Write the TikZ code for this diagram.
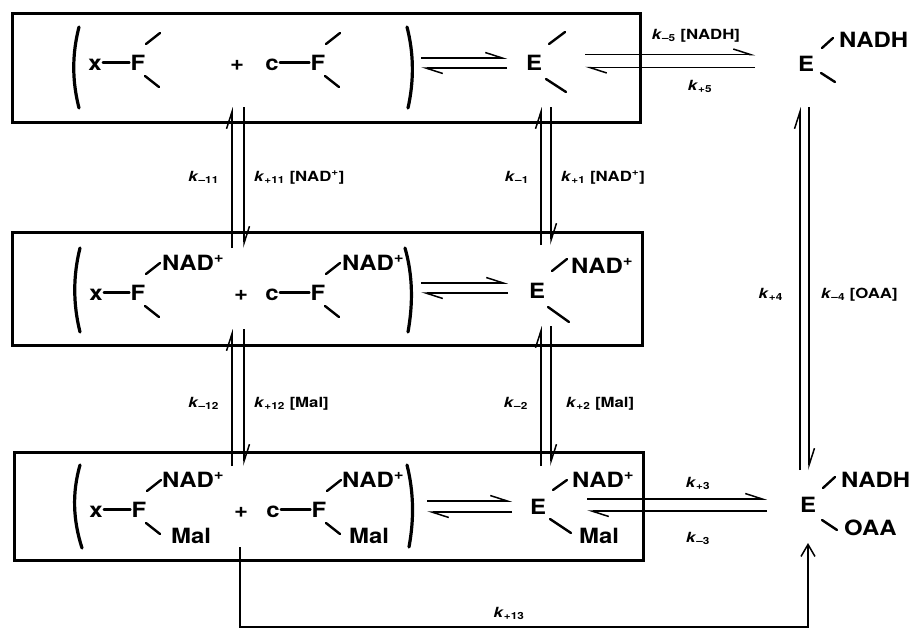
\documentclass[tikz,border=0pt]{standalone}
\usepackage{fontspec}
\setmainfont{TeX Gyre Heros}[FakeStretch=1.14]
\newfontfamily\ratefont{TeX Gyre Heros}[FakeStretch=1.2]
\usetikzlibrary{arrows.meta}

\newcommand{\rate}[1]{\textit{k}\textsubscript{#1}}

\tikzset{
chem/.style={font=\fontsize{21}{24}\selectfont\bfseries, inner sep=1pt, anchor=base},
lig/.style={chem, anchor=base west},
ratelabel/.style={font=\ratefont\fontsize{14}{16}\selectfont\bfseries, inner sep=0pt},
bond/.style={line width=2.4pt, line cap=round},
paren/.style={line width=3.2pt, line cap=round},
panel/.style={line width=3pt},
fwd/.style={line width=1.5pt, -{Straight Barb[left, length=17pt, width=11pt]}},
full/.style={line width=1.5pt, -{Straight Barb[length=12pt, width=14pt]}}
}

\begin{document}
\begin{tikzpicture}[x=1pt,y=-1pt]

\useasboundingbox
(0,0) rectangle (916,629);

\draw[panel]
(12,13) rectangle (640,122);

\draw[panel]
(12,232) rectangle (642,345);

\draw[panel]
(14,452) rectangle (643,560);

\draw[paren]
(79,27) .. controls (72,54) and (72,81) .. (79,108);

\draw[paren]
(407,27) .. controls (414,54) and (414,81) .. (408,108);

\draw[paren]
(80,248) .. controls (73,276) and (73,304) .. (80,332);

\draw[paren]
(405,248) .. controls (413,276) and (413,304) .. (408,332);

\draw[paren]
(80,465) .. controls (72,493) and (73,520) .. (82,548);

\draw[paren]
(407,465) .. controls (414,493) and (414,520) .. (409,547);

\node[chem]
(x1)
at (95,70)
{x};

\node[chem]
(F1)
at (138,70)
{F};

\node[chem]
(plus1)
at (237,70)
{+};

\node[chem]
(c1)
at (272,70)
{c};

\node[chem]
(Fc1)
at (318,70)
{F};

\node[chem]
(E1)
at (534,70)
{E};

\node[chem]
(Ed)
at (806,71)
{E};

\node[lig]
(nadhd)
at (838,47)
{NADH};

\node[chem]
(x2)
at (96,300)
{x};

\node[chem]
(F2)
at (138,300)
{F};

\node[lig]
(nadx2)
at (161,270)
{NAD\textsuperscript{+}};

\node[chem]
(plus2)
at (241,300)
{+};

\node[chem]
(c2)
at (272,300)
{c};

\node[chem]
(Fc2)
at (318,300)
{F};

\node[lig]
(nadc2)
at (341,270)
{NAD\textsuperscript{+}};

\node[chem]
(E2)
at (537,298)
{E};

\node[lig]
(nadE2)
at (570,273)
{NAD\textsuperscript{+}};

\node[chem]
(x3)
at (96,517)
{x};

\node[chem]
(F3)
at (139,517)
{F};

\node[lig]
(nadx3)
at (161,487)
{NAD\textsuperscript{+}};

\node[lig]
(malx3)
at (170,543)
{Mal};

\node[chem]
(plus3)
at (241,517)
{+};

\node[chem]
(c3)
at (273,517)
{c};

\node[chem]
(Fc3)
at (319,517)
{F};

\node[lig]
(nadc3)
at (341,487)
{NAD\textsuperscript{+}};

\node[lig]
(malc3)
at (348,543)
{Mal};

\node[chem]
(E3)
at (538,514)
{E};

\node[lig]
(nadE3)
at (571,487)
{NAD\textsuperscript{+}};

\node[lig]
(malE3)
at (578,543)
{Mal};

\node[chem]
(Eq)
at (808,512)
{E};

\node[lig]
(nadhq)
at (840,487)
{NADH};

\node[lig]
(oaaq)
at (843,535)
{OAA};

\draw[bond]
(x1.east |- F1.west) -- (F1.west);

\draw[bond]
(c1.east |- Fc1.west) -- (Fc1.west);

\draw[bond]
(x2.east |- F2.west) -- (F2.west);

\draw[bond]
(c2.east |- Fc2.west) -- (Fc2.west);

\draw[bond]
(x3.east |- F3.west) -- (F3.west);

\draw[bond]
(c3.east |- Fc3.west) -- (Fc3.west);

\draw[bond]
([shift={(8,-26)}]F1.base) -- ++(14,-11)
([shift={(7,6)}]F1.base) -- ++(14,11);

\draw[bond]
([shift={(8,-26)}]Fc1.base) -- ++(14,-11)
([shift={(7,6)}]Fc1.base) -- ++(14,11);

\draw[bond]
([shift={(8,-26)}]F2.base) -- ++(14,-11)
([shift={(7,6)}]F2.base) -- ++(14,11);

\draw[bond]
([shift={(8,-26)}]Fc2.base) -- ++(14,-11)
([shift={(7,6)}]Fc2.base) -- ++(14,11);

\draw[bond]
([shift={(8,-26)}]F3.base) -- ++(14,-11)
([shift={(7,6)}]F3.base) -- ++(14,11);

\draw[bond]
([shift={(8,-26)}]Fc3.base) -- ++(14,-11)
([shift={(7,6)}]Fc3.base) -- ++(14,11);

\draw[bond]
([shift={(15,-26)}]E1.base) -- ++(16,-12)
([shift={(12,9)}]E1.base) -- ++(20,13);

\draw[bond]
([shift={(15,-27)}]E2.base) -- ++(15,-12)
([shift={(11,9)}]E2.base) -- ++(21,15);

\draw[bond]
([shift={(15,-24)}]E3.base) -- ++(14,-10)
([shift={(12,5)}]E3.base) -- ++(21,14);

\draw[bond]
([shift={(16,-23)}]Ed.base) -- ++(11,-10)
([shift={(15,2)}]Ed.base) -- ++(14,9);

\draw[bond]
([shift={(15,-24)}]Eq.base) -- ++(12,-11)
([shift={(14,8)}]Eq.base) -- ++(15,10);

\coordinate (h1l) at (421,63);
\coordinate (h1r) at (507,63);
\coordinate (h2l) at (585,61);
\coordinate (h2r) at (755,61);
\coordinate (h3l) at (421,288);
\coordinate (h3r) at (508,288);
\coordinate (h4l) at (427,506.5);
\coordinate (h4r) at (512,506.5);
\coordinate (h5l) at (587,505);
\coordinate (h5r) at (767,505);

\coordinate (v1t) at (238,107);
\coordinate (v1b) at (238,248);
\coordinate (v2t) at (238,329);
\coordinate (v2b) at (238,466);
\coordinate (v3t) at (546,107);
\coordinate (v3b) at (546,245);
\coordinate (v4t) at (546,326);
\coordinate (v4b) at (546,466);
\coordinate (v5t) at (804.5,107);
\coordinate (v5b) at (804.5,470);

\coordinate (k13s) at (240,547);
\coordinate (k13b) at (240,627);
\coordinate (k13e) at (808,543);

\draw[fwd]
([shift={(0,-5)}]h1l) -- ([shift={(0,-5)}]h1r);
\draw[fwd]
([shift={(0,5)}]h1r) -- ([shift={(0,5)}]h1l);

\draw[fwd]
([shift={(0,-6.5)}]h2l) -- ([shift={(0,-6.5)}]h2r);
\draw[fwd]
([shift={(0,6.5)}]h2r) -- ([shift={(0,6.5)}]h2l);

\draw[fwd]
([shift={(0,-5)}]h3l) -- ([shift={(0,-5)}]h3r);
\draw[fwd]
([shift={(0,5)}]h3r) -- ([shift={(0,5)}]h3l);

\draw[fwd]
([shift={(0,-5.5)}]h4l) -- ([shift={(0,-5.5)}]h4r);
\draw[fwd]
([shift={(0,5.5)}]h4r) -- ([shift={(0,5.5)}]h4l);

\draw[fwd]
([shift={(0,-6)}]h5l) -- ([shift={(0,-6)}]h5r);
\draw[fwd]
([shift={(0,6)}]h5r) -- ([shift={(0,6)}]h5l);

\draw[fwd]
([shift={(-6,0)}]v1b) -- ([shift={(-6,0)}]v1t);
\draw[fwd]
([shift={(6,0)}]v1t) -- ([shift={(6,0)}]v1b);

\draw[fwd]
([shift={(-6,0)}]v2b) -- ([shift={(-6,0)}]v2t);
\draw[fwd]
([shift={(6,0)}]v2t) -- ([shift={(6,0)}]v2b);

\draw[fwd]
([shift={(-5,0)}]v3b) -- ([shift={(-5,0)}]v3t);
\draw[fwd]
([shift={(5,0)}]v3t) -- ([shift={(5,0)}]v3b);

\draw[fwd]
([shift={(-5,0)}]v4b) -- ([shift={(-5,0)}]v4t);
\draw[fwd]
([shift={(5,0)}]v4t) -- ([shift={(5,0)}]v4b);

\draw[fwd]
([shift={(-4.5,0)}]v5b) -- ([shift={(-4.5,0)}]v5t);
\draw[fwd]
([shift={(4.5,0)}]v5t) -- ([shift={(4.5,0)}]v5b);

\draw[full]
(k13s) -- (k13b) -| (k13e);

\node[ratelabel, anchor=base]
(km5)
at (696,39)
{\rate{\textendash5} [NADH]};

\node[ratelabel, anchor=base]
(kp5)
at (700,90)
{\rate{+5}};

\node[ratelabel, anchor=base east]
(km11)
at (219,181)
{\rate{\textendash11}};

\node[ratelabel, anchor=base west]
(kp11)
at (254,181)
{\rate{+11} [NAD\textsuperscript{+}]};

\node[ratelabel, anchor=base east]
(km1)
at (529,181)
{\rate{\textendash1}};

\node[ratelabel, anchor=base west]
(kp1)
at (561,181)
{\rate{+1} [NAD\textsuperscript{+}]};

\node[ratelabel, anchor=base east]
(kp4)
at (783,298)
{\rate{+4}};

\node[ratelabel, anchor=base west]
(km4)
at (821,298)
{\rate{\textendash4} [OAA]};

\node[ratelabel, anchor=base east]
(km12)
at (219,407)
{\rate{\textendash12}};

\node[ratelabel, anchor=base west]
(kp12)
at (254,407)
{\rate{+12} [Mal]};

\node[ratelabel, anchor=base east]
(km2)
at (528,407)
{\rate{\textendash2}};

\node[ratelabel, anchor=base west]
(kp2)
at (566,407)
{\rate{+2} [Mal]};

\node[ratelabel, anchor=base]
(kp3)
at (698,487)
{\rate{+3}};

\node[ratelabel, anchor=base]
(km3)
at (698,542)
{\rate{\textendash3}};

\node[ratelabel, anchor=base]
(kp13)
at (509,617)
{\rate{+13}};

\end{tikzpicture}
\end{document}
